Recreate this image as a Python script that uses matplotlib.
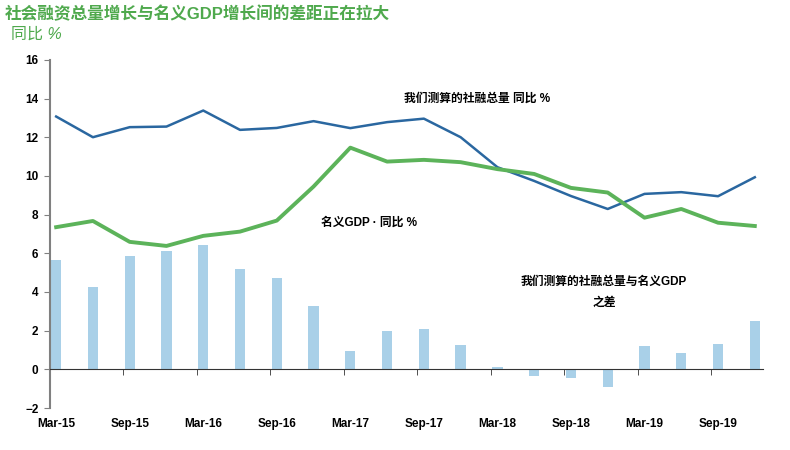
import matplotlib.pyplot as plt
import numpy as np

# 季度数据 Mar-15 .. Dec-19
quarters = ["Mar-15", "Jun-15", "Sep-15", "Dec-15", "Mar-16", "Jun-16", "Sep-16", "Dec-16",
            "Mar-17", "Jun-17", "Sep-17", "Dec-17", "Mar-18", "Jun-18", "Sep-18", "Dec-18",
            "Mar-19", "Jun-19", "Sep-19", "Dec-19"]
tsf_yoy = [13.07, 12.0, 12.52, 12.55, 13.38, 12.38, 12.48, 12.83, 12.47, 12.78,
           12.96, 12.0, 10.45, 9.74, 8.96, 8.29, 9.07, 9.16, 8.95, 9.93]
gdp_yoy = [7.35, 7.67, 6.59, 6.38, 6.9, 7.12, 7.69, 9.45, 11.46, 10.74,
           10.83, 10.71, 10.35, 10.1, 9.38, 9.14, 7.84, 8.29, 7.58, 7.41]
spread = [5.65, 4.27, 5.86, 6.12, 6.45, 5.17, 4.74, 3.29, 0.96, 1.98,
          2.09, 1.24, 0.10, -0.35, -0.45, -0.9, 1.2, 0.83, 1.32, 2.48]
yticks = [-2, 0, 2, 4, 6, 8, 10, 12, 14, 16]

GREEN = "#4fa94d"

# 拉丁字符用 Liberation Sans，中文回退到 Noto Sans CJK
plt.rcParams["font.family"] = ["Liberation Sans", "Noto Sans CJK SC", "DejaVu Sans"]
plt.rcParams["font.weight"] = "bold"

fig = plt.figure(figsize=(7.9, 4.5), dpi=100)
ax = fig.add_axes([0.0627, 0.0933, 0.903, 0.7737])

x = np.arange(len(quarters))
ax.bar(x, spread, width=0.28, color="#a9d0e8", zorder=2)
ax.plot(x, tsf_yoy, color="#2a67a0", lw=1.8, zorder=3)
ax.plot(x, gdp_yoy, color="#5cb35a", lw=2.8, zorder=3)

ax.set_xlim(-0.18, 19.22)
ax.set_ylim(-2, 16)
ax.set_yticks(yticks)

# 标签在数据点下方，刻度线在类别边界
ax.set_xticks(x[::2])
ax.set_xticklabels(quarters[::2])
ax.set_xticks(x[::2] - 0.18, minor=True)
ax.tick_params(axis="x", which="major", length=0, pad=35, labelsize=8.5)
ax.tick_params(axis="x", which="minor", length=4, direction="out", color="#333333")
ax.tick_params(axis="y", length=4, direction="out", color="#808080", pad=4, labelsize=8.5)

ax.spines["top"].set_visible(False)
ax.spines["right"].set_visible(False)
ax.spines["left"].set_color("#808080")
ax.spines["left"].set_linewidth(1.5)
ax.spines["bottom"].set_position(("data", 0))
ax.spines["bottom"].set_color("#333333")
ax.spines["bottom"].set_zorder(4)

# 注释
ax.text(9.45, 14.0, "我们测算的社融总量 同比 %", fontsize=8.5, ha="left", va="center")
ax.text(7.2, 7.6, "名义GDP · 同比 %", fontsize=8.5, ha="left", va="center")
ax.text(14.9, 4.5, "我们测算的社融总量与名义GDP", fontsize=8.5, ha="center", va="center")
ax.text(14.9, 3.45, "之差", fontsize=8.5, ha="center", va="center")

fig.text(0.006, 0.968, "社会融资总量增长与名义GDP增长间的差距正在拉大", fontsize=12,
         color=GREEN, ha="left", va="center")
fig.text(0.014, 0.925, "同比 %", fontsize=11.5, style="italic", fontweight="normal",
         color=GREEN, ha="left", va="center")

fig.savefig("out.png", dpi=100)
